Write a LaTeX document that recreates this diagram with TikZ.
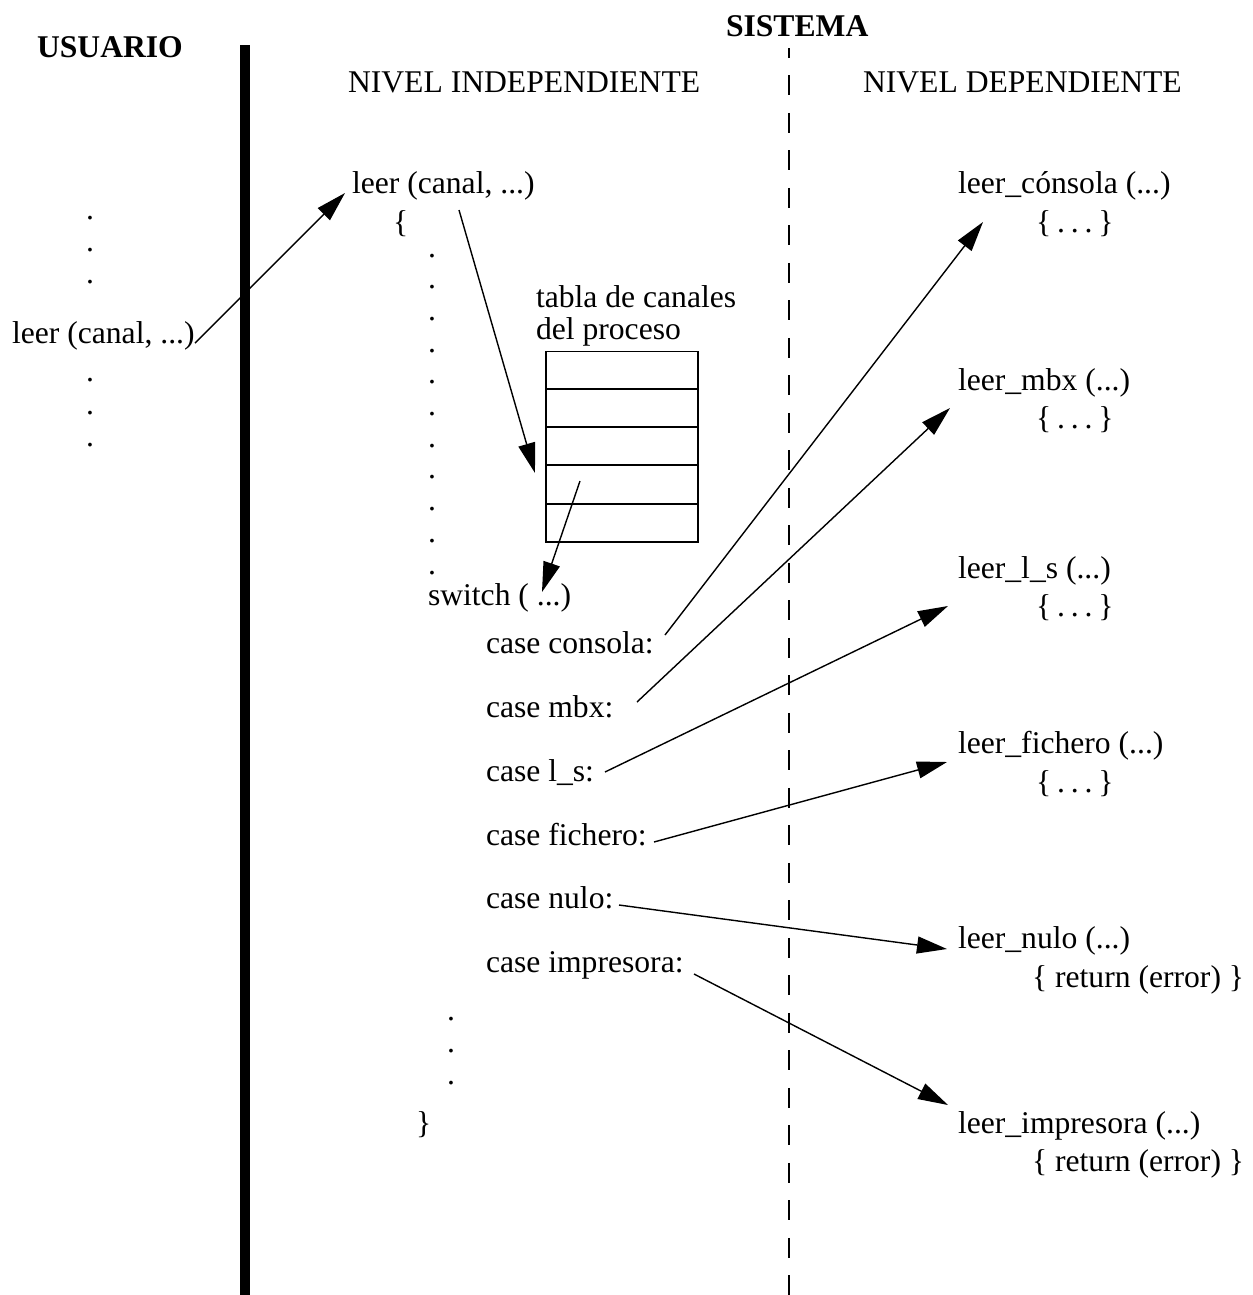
\documentclass[tikz,border=0pt]{standalone}
\usepackage{fontspec}
\setmainfont{Liberation Serif}
\usetikzlibrary{arrows.meta}
% body placeholder of a routine: braces around three spaced dots
\newcommand{\bodydots}{\{\hspace{0.186em}.\hspace{0.186em}.\hspace{0.186em}.\hspace{0.186em}\}}
\begin{document}
\begin{tikzpicture}[x=0.02cm,y=-0.02cm,
  txt/.style={inner sep=0pt, outer sep=0pt, anchor=base west, font=\fontsize{18}{22}\selectfont},
  hdr/.style={txt, font=\fontsize{18}{22}\selectfont\bfseries},
  dotmark/.style={inner sep=0pt, outer sep=0pt, anchor=base, font=\fontsize{18}{22}\selectfont},
  cell/.style={draw, line width=1pt, minimum width=3.04cm, minimum height=0.756cm, inner sep=0pt, outer sep=0pt},
  call/.style={line width=0.8pt, -{Triangle[length=0.6cm,width=0.34cm]}},
  ]
\useasboundingbox (0,0) rectangle (1252,1295);

% separators
\draw[line width=5.7pt] (245,45) coordinate (sepTop) -- (245,1295) coordinate (sepBot);
\draw[line width=0.8pt, dash pattern=on 0.4cm off 0.35cm, dash phase=0.2cm]
  (789,48) coordinate (dashTop) -- (789,1295) coordinate (dashBot);

% headings
\node[hdr] (usuario) at (37,57) {USUARIO};
\node[hdr] (sistema) at (726,36) {SISTEMA};
\node[txt] (nivind) at (348,92) {NIVEL INDEPENDIENTE};
\node[txt] (nivdep) at (863,92) {NIVEL DEPENDIENTE};

% user program
\foreach \y [count=\i] in {217,249,281,379,412,444}
  \node[dotmark] (ud\i) at (90,\y+2) {.};
\node[txt] (uleer) at (12,343) {leer (canal, ...)};

% device independent level
\node[txt] (leer) at (352,193) {leer (canal, ...)};
\node[txt] (lbrace) at (393,232) {\{};
\foreach \k in {0,...,10}
  \node[dotmark] (id\k) at (432,{257+31.7*\k}) {.};
\node[txt] (switch) at (428,605) {switch ( ...)};
\node[txt] (tabla1) at (536,307) {tabla de canales};
\node[txt] (tabla2) at (536,339) {del proceso};
\foreach \y [count=\i] in {370.5,408,446,484.5,523}
  \node[cell] (row\i) at (622,\y) {};

\node[txt] (cConsola) at (486,653) {case consola:};
\node[txt] (cMbx) at (486,717) {case mbx:};
\node[txt] (cLs) at (486,781) {case l\_s:};
\node[txt] (cFichero) at (486,845) {case fichero:};
\node[txt] (cNulo) at (486,908) {case nulo:};
\node[txt] (cImpresora) at (486,972) {case impresora:};
\foreach \y [count=\i] in {1018,1050,1082}
  \node[dotmark] (ed\i) at (451,\y+2) {.};
\node[txt] (rbrace) at (416,1133) {\}};

% device dependent level
\node[txt] (fConsola) at (958,193) {leer\_cónsola (...)};
\node[txt] (bConsola) at (1036,232) {\bodydots};
\node[txt] (fMbx) at (958,390) {leer\_mbx (...)};
\node[txt] (bMbx) at (1036,428) {\bodydots};
\node[txt] (fLs) at (958,578) {leer\_l\_s (...)};
\node[txt] (bLs) at (1036,616) {\bodydots};
\node[txt] (fFichero) at (958,753) {leer\_fichero (...)};
\node[txt] (bFichero) at (1036,792) {\bodydots};
\node[txt] (fNulo) at (958,948) {leer\_nulo (...)};
\node[txt] (bNulo) at (1032,987) {\{ return (error) \}};
\node[txt] (fImpresora) at (958,1133) {leer\_impresora (...)};
\node[txt] (bImpresora) at (1032,1171) {\{ return (error) \}};

% connector end points
\coordinate (uCall) at (195,343);
\coordinate (leerIn) at (345,193);
\coordinate (leerOut) at (459,210);
\coordinate (tabIn) at (535,473);
\coordinate (tabOut) at (580,481);
\coordinate (swIn) at (542,592);
\coordinate (cConsolaOut) at (665,635);
\coordinate (fConsolaIn) at (983,222);
\coordinate (cMbxOut) at (637,702);
\coordinate (fMbxIn) at (950,408);
\coordinate (cLsOut) at (605,772);
\coordinate (fLsIn) at (948,606);
\coordinate (cFicheroOut) at (654,842);
\coordinate (fFicheroIn) at (947,762);
\coordinate (cNuloOut) at (619,905);
\coordinate (fNuloIn) at (947,949);
\coordinate (cImpresoraOut) at (694,974);
\coordinate (fImpresoraIn) at (948,1105);

% calls
\draw[call] (uCall) -- (leerIn);
\draw[call] (leerOut) -- (tabIn);
\draw[call] (tabOut) -- (swIn);
\draw[call] (cConsolaOut) -- (fConsolaIn);
\draw[call] (cMbxOut) -- (fMbxIn);
\draw[call] (cLsOut) -- (fLsIn);
\draw[call] (cFicheroOut) -- (fFicheroIn);
\draw[call] (cNuloOut) -- (fNuloIn);
\draw[call] (cImpresoraOut) -- (fImpresoraIn);
\end{tikzpicture}
\end{document}
